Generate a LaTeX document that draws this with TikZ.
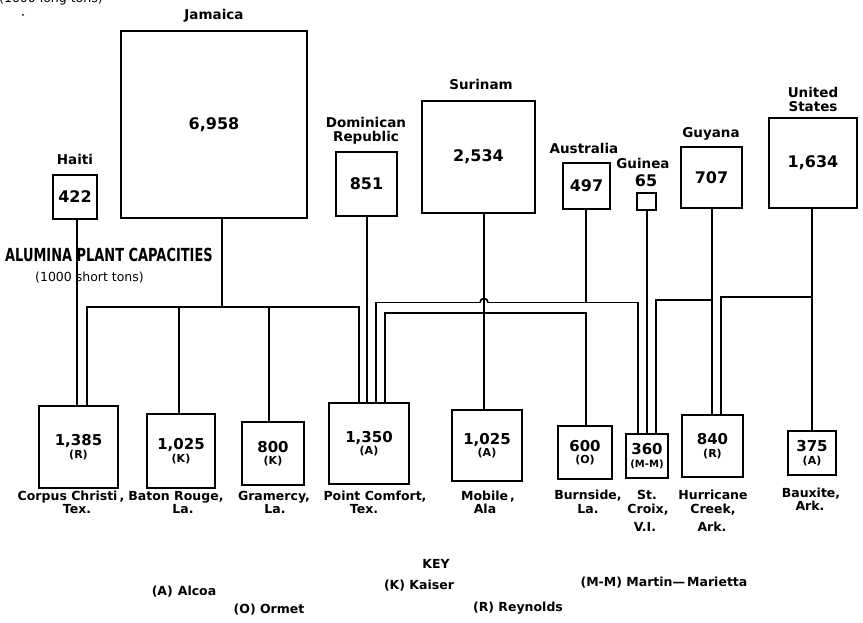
\documentclass[tikz,border=0pt]{standalone}
\usepackage{fontspec}
\usepackage{graphicx}
\setmainfont{DejaVu Sans}
\usetikzlibrary{calc}
\begin{document}
\begin{tikzpicture}[x=1pt,y=-1pt,
  sbox/.style={draw,line width=2.3pt,inner sep=0pt,align=center,font=\bfseries\fontsize{16}{16}\selectfont},
  pbox/.style={draw,line width=2.3pt,inner sep=0pt,align=center,font=\bfseries\fontsize{15}{12.5}\selectfont},
  conn/.style={line width=1.4pt},
  tlbl/.style={inner sep=0pt,anchor=base,align=center,font=\bfseries\fontsize{13.5}{14}\selectfont},
  plbl/.style={inner sep=0pt,anchor=base,font=\bfseries\fontsize{12.5}{12}\selectfont},
  keyt/.style={inner sep=0pt,anchor=base,font=\bfseries\fontsize{12.5}{12}\selectfont}]
\useasboundingbox (0,0) rectangle (863,623);
\newcommand{\co}[1]{\\{\fontsize{11}{11}\selectfont #1}}

% cut header text and speck
\node[inner sep=0pt,anchor=base west,font=\fontsize{12.5}{12}\selectfont] (hdr) at (-1,3) {(1000 long tons)};
\fill (23,15) circle (1pt);

% title
\node[inner sep=0pt,anchor=west,font=\bfseries\fontsize{18}{18}\selectfont] (title) at (5,255) {\scalebox{0.72}[1]{ALUMINA PLANT CAPACITIES}};
\node[inner sep=0pt,anchor=west,font=\fontsize{12.5}{12}\selectfont] (sub) at (35,278) {(1000 short tons)};

% source boxes
\node[sbox,minimum width=44pt,minimum height=44pt] (hai) at (75,197) {422};
\node[sbox,minimum width=186pt,minimum height=187pt] (jam) at (214,124.5) {6,958};
\node[sbox,minimum width=61pt,minimum height=64pt] (dom) at (366.5,184) {851};
\node[sbox,minimum width=113pt,minimum height=112pt] (sur) at (478.5,157) {2,534};
\node[sbox,minimum width=47pt,minimum height=46pt] (aus) at (586.5,186) {497};
\node[draw,line width=2pt,minimum width=19pt,minimum height=17pt,inner sep=0pt] (gui) at (646.5,201.5) {};
\node[sbox,minimum width=61pt,minimum height=61pt] (guy) at (711.5,177.5) {707};
\node[sbox,minimum width=88pt,minimum height=90pt] (us) at (813,163) {1,634};

% source labels
\node[tlbl] (haiL) at (75,165) {Haiti};
\node[tlbl] (jamL) at (214,20) {Jamaica};
\node[tlbl,anchor=south] (domL) at (366,145) {Dominican\\Republic};
\node[tlbl] (surL) at (481,90) {Surinam};
\node[tlbl] (ausL) at (584,154) {Australia};
\node[tlbl] (guiL) at (643,169) {Guinea};
\node[tlbl,font=\bfseries\fontsize{16}{16}\selectfont] (guiV) at (646,187) {65};
\node[tlbl] (guyL) at (711,138) {Guyana};
\node[tlbl,anchor=south] (usL) at (813,112) {United\\States};

% plant boxes
\node[pbox,minimum width=79pt,minimum height=82pt] (cc) at (78.5,447) {1,385\co{(R)}};
\node[pbox,minimum width=68pt,minimum height=74pt] (br) at (181,451) {1,025\co{(K)}};
\node[pbox,minimum width=62pt,minimum height=63pt] (gr) at (273,453.5) {800\co{(K)}};
\node[pbox,minimum width=80pt,minimum height=81pt] (pc) at (369,443.5) {1,350\co{(A)}};
\node[pbox,minimum width=70pt,minimum height=71pt] (mob) at (487,445.5) {1,025\co{(A)}};
\node[pbox,minimum width=54pt,minimum height=53pt] (bur) at (585,452.5) {600\co{(O)}};
\node[pbox,minimum width=42pt,minimum height=44pt] (stc) at (647,456) {360\\{\fontsize{10}{10}\selectfont(M-M)}};
\node[pbox,minimum width=61pt,minimum height=62pt] (hc) at (712.5,446) {840\co{(R)}};
\node[pbox,minimum width=48pt,minimum height=44pt] (bx) at (812,453) {375\co{(A)}};

% plant labels
\node[plbl] (ccL1) at (71,500) {Corpus Christi\hspace{2pt},};
\node[plbl] (ccL2) at (77,513) {Tex.};
\node[plbl] (brL1) at (176,500) {Baton Rouge,};
\node[plbl] (brL2) at (183,513) {La.};
\node[plbl] (grL1) at (274,500) {Gramercy,};
\node[plbl] (grL2) at (275,513) {La.};
\node[plbl] (pcL1) at (375,500) {Point Comfort,};
\node[plbl] (pcL2) at (364,513) {Tex.};
\node[plbl] (mobL1) at (488,500) {Mobile\hspace{2pt},};
\node[plbl] (mobL2) at (485,513) {Ala};
\node[plbl] (burL1) at (588,499) {Burnside,};
\node[plbl] (burL2) at (588,513) {La.};
\node[plbl] (stcL1) at (647,499) {St.};
\node[plbl] (stcL2) at (648,513) {Croix,};
\node[plbl] (stcL3) at (645,531) {V.I.};
\node[plbl] (hcL1) at (713,499) {Hurricane};
\node[plbl] (hcL2) at (713,513) {Creek,};
\node[plbl] (hcL3) at (712,531) {Ark.};
\node[plbl] (bxL1) at (811,497) {Bauxite,};
\node[plbl] (bxL2) at (810,510) {Ark.};

% key
\node[keyt] (key) at (436,568) {KEY};
\node[keyt] (kA) at (184,595.5) {(A)\hspace{5pt}Alcoa};
\node[keyt] (kK) at (419,589) {(K) Kaiser};
\node[keyt] (kM) at (664,586) {(M-M) Martin---\,Marietta};
\node[keyt] (kO) at (269,613.5) {(O) Ormet};
\node[keyt] (kR) at (518,611.5) {(R) Reynolds};

% connectors: Haiti
\coordinate (hx) at (77,0);
\draw[conn] (hx |- hai.south) -- (hx |- cc.north);
% Jamaica
\coordinate (jx) at (222,307);
\coordinate (jL) at (87,307);
\coordinate (jR) at (359,307);
\coordinate (jB) at (179,307);
\coordinate (jG) at (269,307);
\draw[conn] (jx |- jam.south) -- (jx);
\draw[conn] (jL |- cc.north) -- (jL) -- (jR) -- (jR |- pc.north);
\draw[conn] (jB) -- (jB |- br.north);
\draw[conn] (jG) -- (jG |- gr.north);
% Dominican Republic
\coordinate (dx) at (367,0);
\draw[conn] (dx |- dom.south) -- (dx |- pc.north);
% Surinam
\coordinate (sJ) at (484,313);
\coordinate (sL) at (385,313);
\coordinate (sR) at (586,313);
\draw[conn] (sJ |- sur.south) -- (sJ |- mob.north);
\draw[conn] (sL |- pc.north) -- (sL) -- (sR) -- (sR |- bur.north);
% Australia (hops over the Surinam line)
\coordinate (aJ) at (586,302.5);
\coordinate (aL) at (376,302.5);
\coordinate (aR) at (638,302.5);
\coordinate (hop) at (484,302.5);
\draw[conn] (aJ |- aus.south) -- (aJ);
\draw[conn,line width=1.7pt] (aL |- pc.north) -- (aL) -- ($(hop)+(-4,0)$);
\draw[conn,line width=1.7pt] ($(hop)+(-4,0)$) .. controls ($(hop)+(-4,-5.3)$) and ($(hop)+(4,-5.3)$) .. ($(hop)+(4,0)$);
\draw[conn,line width=1.7pt] ($(hop)+(4,0)$) -- (aR) -- (aR |- stc.north);
% Guinea
\coordinate (gx) at (647,0);
\draw[conn] (gx |- gui.south) -- (gx |- stc.north);
% Guyana
\coordinate (yJ) at (712,300);
\coordinate (yL) at (656,300);
\draw[conn] (yJ |- guy.south) -- (yJ |- hc.north);
\draw[conn] (yJ) -- (yL) -- (yL |- stc.north);
% United States
\coordinate (uJ) at (812,297);
\coordinate (uL) at (721,297);
\draw[conn] (uJ |- us.south) -- (uJ |- bx.north);
\draw[conn] (uJ) -- (uL) -- (uL |- hc.north);
\end{tikzpicture}
\end{document}
